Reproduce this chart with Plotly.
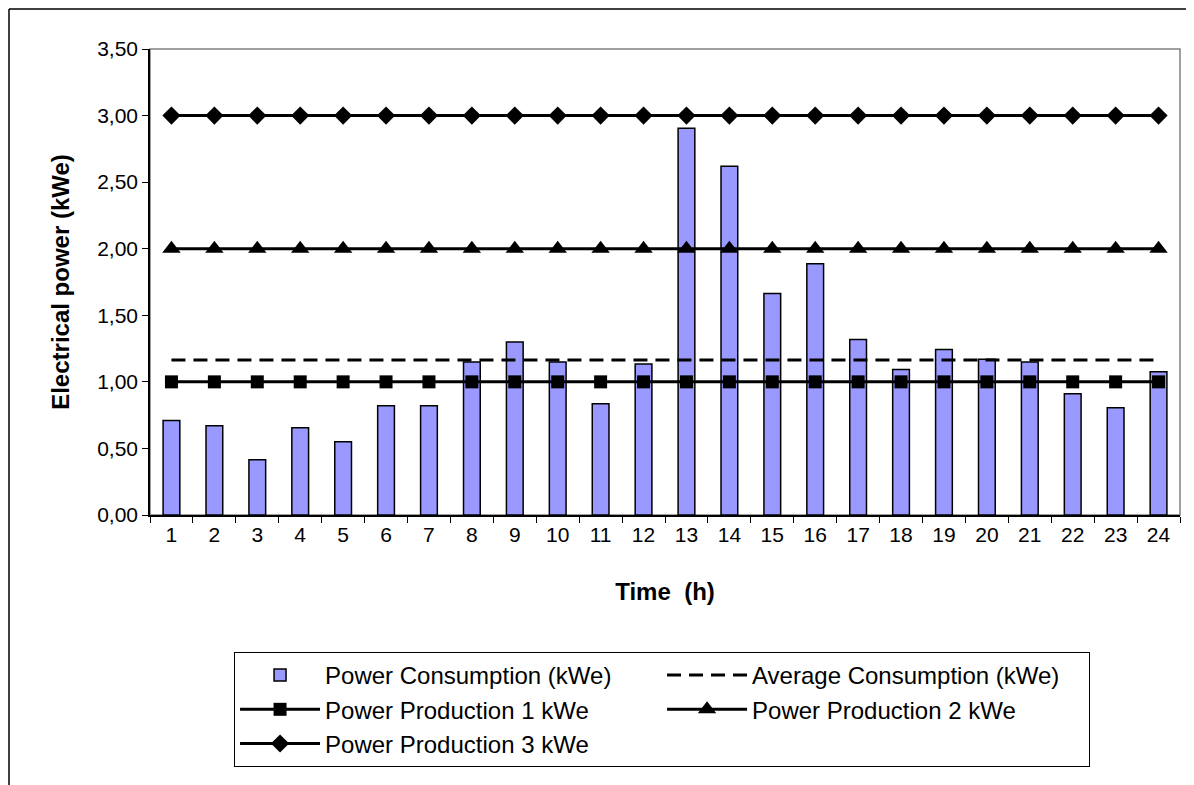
import plotly.graph_objects as go

hours = [str(h) for h in range(1, 25)]
consumption = [0.71, 0.67, 0.415, 0.655, 0.55, 0.82, 0.82, 1.15, 1.30, 1.15, 0.835, 1.135,
               2.905, 2.62, 1.663, 1.888, 1.318, 1.093, 1.243, 1.17, 1.15, 0.91, 0.805, 1.075]
average = [1.165] * 24
prod1 = [1.0] * 24
prod2 = [2.0] * 24
prod3 = [3.0] * 24

FONT = "Arial, Liberation Sans, sans-serif"

fig = go.Figure()
fig.add_trace(go.Bar(x=hours, y=consumption, name="Power Consumption (kWe)",
                     marker=dict(color="#9999FF", line=dict(color="black", width=1.5)),
                     width=0.39))
fig.add_trace(go.Scatter(x=hours, y=average, name="Average Consumption (kWe)", mode="lines",
                         line=dict(color="black", width=3, dash="14px,8px")))
fig.add_trace(go.Scatter(x=hours, y=prod1, name="Power Production 1 kWe", mode="lines+markers",
                         line=dict(color="black", width=3),
                         marker=dict(symbol="square", size=13, color="black")))
fig.add_trace(go.Scatter(x=hours, y=prod2, name="Power Production 2 kWe", mode="lines+markers",
                         line=dict(color="black", width=3),
                         marker=dict(symbol="triangle-up", size=16, color="black")))
fig.add_trace(go.Scatter(x=hours, y=prod3, name="Power Production 3 kWe", mode="lines+markers",
                         line=dict(color="black", width=3),
                         marker=dict(symbol="diamond", size=14, color="black")))

fig.update_layout(
    width=1186, height=777,
    margin=dict(l=142, r=14, t=41, b=270),
    paper_bgcolor="white", plot_bgcolor="white",
    separators=",.",
    font=dict(family=FONT, size=21, color="black"),
    showlegend=True,
    legend=dict(orientation="h", x=0.0816, y=-0.294, xanchor="left", yanchor="top",
                bordercolor="black", borderwidth=1, bgcolor="white",
                font=dict(family=FONT, size=24, color="black"),
                entrywidth=332, itemwidth=80, traceorder="normal"),
)
fig.update_xaxes(type="category", range=[-0.5, 23.5], tickson="boundaries", ticks="outside",
                 ticklen=6, tickcolor="black", showline=True, linecolor="black", linewidth=1.5,
                 showgrid=False, tickfont=dict(size=21),
                 title=dict(text="<b>Time  (h)</b>", font=dict(size=24), standoff=38))
fig.update_yaxes(range=[0, 3.5], dtick=0.5, tickformat=".2f", ticks="outside", ticklen=6,
                 tickcolor="black", showline=True, linecolor="black", linewidth=1.5,
                 showgrid=False, zeroline=False, tickfont=dict(size=21),
                 title=dict(text="<b>Electrical power (kWe)</b>", font=dict(size=24), standoff=21))

# plot area frame (grey) and outer chart frame
fig.add_shape(type="rect", xref="paper", yref="paper", x0=0, x1=1, y0=0, y1=1,
              line=dict(color="#808080", width=1.5), layer="below")
fig.add_shape(type="line", xref="paper", yref="paper", x0=-141 / 1030, x1=1.1,
              y0=506 / 466, y1=506 / 466, line=dict(color="black", width=1.5))
fig.add_shape(type="line", xref="paper", yref="paper", x0=-141 / 1030, x1=-141 / 1030,
              y0=506 / 466, y1=-0.7, line=dict(color="black", width=1.5))

fig.write_html("out.html")
